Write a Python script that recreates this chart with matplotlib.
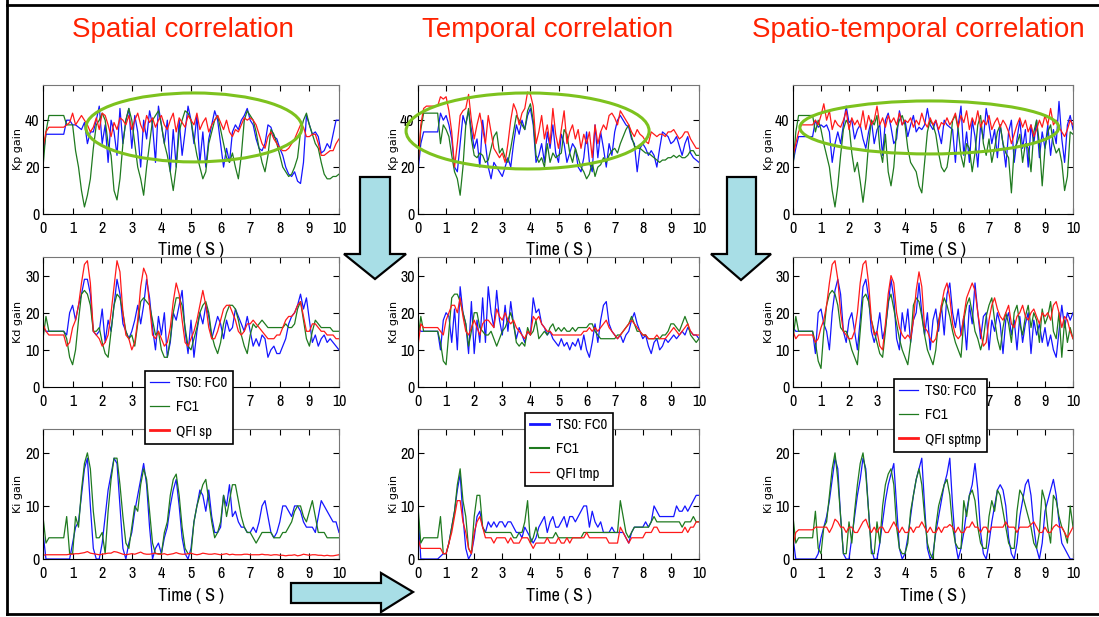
import numpy as np
import matplotlib.pyplot as plt
from matplotlib import font_manager
from matplotlib.font_manager import FontProperties
from matplotlib.patches import Ellipse, Polygon
from matplotlib.lines import Line2D

W, H = 1099, 617
t = np.linspace(0, 10, 101)

# ---- Kp gain (row 1) ----
kp_sp_blue = [25,34,34,34,34,34,34,34,40,40, 38,38,37,36,39,30,35,35,40,46,
              30,38,22,40,35,25,45,30,40,45, 28,42,35,20,40,32,44,38,22,46,
              38,30,40,18,36,20,40,25,35,46, 40,30,42,22,35,20,32,38,44,40,
              30,20,28,22,35,38,36,40,42,45, 40,38,32,28,27,30,38,37,33,32,
              28,25,20,17,16,18,14,13,22,42, 38,34,35,33,26,27,30,28,34,40, 40]
kp_sp_green = [20,35,42,42,42,42,42,42,38,38, 38,27,20,10,3,8,15,28,38,40,
               43,40,30,25,10,6,15,30,40,45, 40,30,20,15,8,20,30,40,42,44,
               38,30,25,18,10,20,35,40,44,43, 40,32,25,20,15,18,30,35,40,42,
               36,30,24,22,26,20,15,25,40,44, 42,40,35,28,22,18,25,36,34,30,
               25,20,18,16,17,20,24,35,40,43, 38,34,30,28,22,17,15,15,16,16, 17]
kp_sp_red = [28,35,37,37,37,37,37,37,38,39, 43,38,40,42,40,38,35,37,41,36,
             43,42,38,33,39,36,41,40,38,42, 36,40,43,38,35,42,39,41,37,40,
             42,38,36,40,43,35,41,39,37,42, 40,38,43,36,39,41,35,38,40,42,
             39,36,40,35,33,36,35,38,41,40, 41,40,38,34,30,28,33,35,32,30,
             28,27,27,28,30,32,35,38,37,33, 33,34,34,30,25,25,26,27,27,30, 32]

kp_tmp_blue = [18,30,35,35,35,35,35,35,43,40, 42,38,32,20,18,30,42,38,44,36,
               28,32,20,40,30,20,15,22,20,18, 16,20,24,20,30,38,34,40,36,42,
               45,38,22,25,30,22,35,28,38,26, 22,34,30,22,26,30,28,20,18,24,
               35,22,18,38,24,35,28,20,30,25, 35,40,42,40,38,37,32,30,18,28,
               30,28,25,27,25,20,28,35,34,33, 30,31,33,29,25,30,33,26,24,23, 22]
kp_tmp_green = [20,36,43,43,43,43,43,43,30,38, 36,33,25,18,15,8,20,38,45,32,
                25,24,26,25,22,23,28,33,35,26, 28,24,22,28,35,42,40,38,36,44,
                47,40,25,22,24,20,30,22,26,24, 25,26,36,34,26,22,28,24,20,18,
                15,17,22,16,20,21,24,22,25,27, 28,26,30,33,36,38,33,29,28,28,
                27,26,26,25,24,23,22,23,23,24, 24,25,24,25,24,24,25,27,27,25, 25]
kp_tmp_red = [20,38,45,46,46,46,46,46,50,49, 50,44,35,20,30,42,44,45,51,40,
              32,38,43,36,30,42,35,28,26,24, 26,22,30,40,47,44,38,43,45,52,
              51,46,30,35,42,32,38,30,45,34, 28,36,44,30,35,38,32,36,28,34,
              30,35,24,38,30,35,38,36,42,43, 41,38,44,42,40,38,35,33,36,34,
              33,31,30,35,34,33,34,34,33,35, 35,36,34,32,33,35,35,32,30,28, 28]

kp_st_blue = [22,28,33,33,33,33,33,33,40,37, 38,37,38,35,22,30,35,30,38,46,
              39,40,32,36,38,32,28,35,40,30, 36,38,25,40,43,37,30,32,44,38,
              40,33,38,42,35,37,36,38,45,38, 36,40,35,30,40,38,37,36,22,38,
              46,25,35,22,40,33,20,38,32,45, 38,30,36,24,38,30,20,35,40,22,
              32,40,28,36,20,38,30,40,24,35, 28,38,25,36,30,48,32,22,38,42, 36]
kp_st_green = [20,35,42,42,42,42,42,42,35,40, 36,30,25,20,10,3,12,25,36,40,
               38,26,18,22,14,5,15,30,40,38, 42,28,22,34,18,12,20,36,40,42,
               38,28,22,20,18,12,9,22,35,40, 38,34,26,20,18,20,28,40,42,36,
               25,20,30,28,18,26,38,42,30,25, 32,22,28,35,38,30,26,24,9,28,
               30,34,22,30,28,18,35,40,30,12, 28,35,38,30,26,28,22,10,16,35, 34]
kp_st_red = [25,30,35,38,38,38,38,38,40,38, 42,47,40,44,36,40,38,37,40,44,
             36,41,38,40,37,44,36,42,38,40, 46,38,41,37,42,39,41,38,43,38,
             40,39,41,37,40,38,43,39,37,41, 38,40,36,39,38,41,38,40,43,37,
             42,39,44,36,41,38,44,37,40,38, 42,36,39,41,37,40,38,35,30,34,
             38,41,37,40,35,38,33,36,40,37, 42,38,45,38,40,37,35,33,36,40, 38]

# ---- Kd gain (row 2) ----
kd_sp_blue = [16,15,15,15,15,15,15,15,14,20, 22,18,22,25,29,29,25,15,14,15,
              21,12,18,15,22,29,25,17,15,13, 15,18,22,17,22,29,24,16,10,19,
              14,20,8,12,20,18,22,26,15,9, 18,8,15,20,17,22,19,13,16,19,
              17,13,18,15,16,21,19,17,15,19, 15,11,13,11,14,13,8,10,11,9,
              9,11,13,17,19,20,22,25,21,24, 18,12,14,11,13,14,12,13,12,11, 10]
kd_sp_green = [13,19,15,15,15,15,15,15,13,8, 6,10,18,25,26,25,22,15,15,16,
               12,9,8,15,22,25,24,20,15,13, 14,11,17,23,24,23,22,18,14,15,
               10,8,8,13,20,24,24,22,16,11, 10,13,16,20,22,23,20,14,11,9,
               12,17,20,22,22,21,18,14,11,9, 14,17,16,17,18,17,16,16,16,16,
               16,16,17,16,16,17,21,23,18,13, 11,15,18,17,16,16,16,16,15,15, 15]
kd_sp_red = [17,15,14,14,14,14,14,14,11,12, 16,18,22,28,33,34,28,15,14,13,
             11,12,14,20,27,34,31,20,14,13, 10,12,18,27,32,30,22,14,13,15,
             13,11,12,16,23,28,25,18,12,11, 13,15,18,22,26,22,16,13,13,15,
             18,21,22,22,20,18,15,14,15,17, 17,18,17,16,15,14,13,13,13,14,
             14,16,18,19,19,20,22,23,19,15, 15,17,17,16,15,15,14,14,14,13, 13]

kd_tmp_blue = [16,15,15,15,15,15,15,15,10,18, 20,19,12,21,10,27,20,17,9,23,
               9,18,12,24,12,27,20,16,26,18, 14,22,15,23,17,13,16,14,12,15,
               14,24,20,21,17,16,14,15,13,12, 11,13,11,12,10,12,11,13,10,14,
               10,8,12,17,12,18,22,23,17,15, 14,13,14,12,14,15,18,20,17,15,
               13,14,11,9,12,13,10,11,13,12, 13,14,13,14,15,14,16,15,14,14, 13]
kd_tmp_green = [13,19,15,15,15,15,15,15,12,7, 6,15,24,25,25,23,20,17,11,15,
                20,20,16,15,14,14,15,13,11,13, 15,16,18,20,17,12,11,12,11,16,
                14,15,18,13,14,15,14,16,17,15, 16,15,16,15,15,16,15,16,16,16,
                16,17,17,15,14,13,13,13,13,13, 13,14,14,15,16,17,19,17,15,15,
                14,14,13,13,13,13,13,14,14,15, 17,17,16,15,17,19,17,14,13,12, 13]
kd_tmp_red = [11,17,16,16,16,16,16,16,15,14, 18,20,22,22,20,24,19,15,14,16,
              18,16,14,17,18,18,17,16,21,19, 18,20,18,17,18,16,15,14,13,15,
              14,19,18,19,17,16,15,15,14,14, 14,14,14,14,14,14,14,14,14,15,
              15,16,15,16,15,16,17,18,16,15, 14,13,14,15,16,17,18,17,16,15,
              14,14,13,13,13,14,13,13,13,14, 15,16,15,14,15,16,17,15,14,14, 14]

kd_st_blue = [16,15,15,15,15,15,15,15,9,20, 21,17,15,10,20,26,29,25,15,12,
              18,20,15,10,18,27,29,24,15,12, 15,20,13,16,22,29,24,13,10,20,
              15,21,12,18,20,28,20,14,20,10, 18,21,15,22,14,25,28,20,16,21,
              14,19,10,22,17,28,20,13,19,20, 10,18,15,20,17,9,18,20,14,18,
              10,19,12,17,20,9,18,14,17,12, 16,11,14,10,8,15,22,16,20,18, 20]
kd_st_green = [13,19,15,15,15,15,15,15,12,7, 5,15,22,25,26,25,22,16,15,15,
               13,10,8,6,15,24,25,23,18,15, 12,9,8,15,23,25,21,17,13,10,
               8,6,12,22,24,23,19,14,10,8, 6,10,18,21,24,22,19,15,12,10,
               8,18,22,24,20,15,13,10,13,19, 22,24,18,13,10,16,20,17,12,20,
               22,17,14,19,22,16,20,18,12,21, 17,19,23,15,13,20,8,18,12,16, 13]
kd_st_red = [15,13,14,14,14,14,14,14,12,13, 16,18,22,28,33,34,29,20,15,14,
             13,13,15,20,28,33,34,28,18,14, 15,11,10,17,25,30,28,20,16,14,
             13,14,13,18,26,31,27,16,15,13, 12,13,17,22,26,28,24,17,14,13,
             14,19,24,26,28,26,20,15,11,12, 18,22,24,21,19,18,20,22,17,16,
             19,20,22,19,18,20,21,19,17,20, 19,20,18,22,23,20,16,19,18,15, 13]

# ---- Ki gain (row 3) ----
ki_sp_blue = [5,0,0,0,0,0,0,0,0,0, 3,6,7,12,17,19,10,2,0,0,
              3,8,13,16,19,18,10,2,0,3, 5,9,12,15,18,14,6,0,2,3,
              1,4,6,10,13,15,10,4,1,0, 2,7,10,13,12,9,13,8,5,5,
              6,12,10,14,8,9,7,6,6,5, 5,6,5,7,10,11,8,5,4,5,
              7,10,10,9,8,10,10,9,7,6, 6,6,5,8,11,10,9,8,7,7, 5]
ki_sp_green = [8,3,4,4,4,4,4,4,8,1, 1,8,6,13,18,20,17,9,4,4,
               5,1,9,15,19,19,14,8,3,2, 6,10,9,14,17,15,9,3,1,1,
               1,5,7,12,15,16,12,6,2,1, 1,7,10,12,14,15,11,7,4,5,
               7,12,8,11,14,14,11,8,6,5, 5,4,3,4,5,5,5,5,4,4,
               4,5,5,6,7,9,10,10,8,7, 9,11,8,5,5,5,4,4,4,4, 4]
ki_sp_red = [0.7,0.8,0.8,0.8,0.8,0.8,0.8,0.8,0.8,0.9, 0.9,1.0,1.0,1.1,1.2,1.4,1.1,1.0,0.9,0.8,
             0.9,1.0,1.1,1.1,1.4,1.3,1.1,0.9,0.8,0.9, 1.0,0.9,1.1,1.3,1.0,0.9,0.9,1.0,1.1,0.9,
             0.9,1.0,0.8,0.9,1.0,1.2,1.0,0.9,0.9,1.0, 1.1,0.9,0.8,0.9,1.1,1.0,0.9,0.9,1.0,0.9,
             0.8,0.9,1.0,0.8,0.9,0.8,0.8,0.8,0.9,0.9, 0.8,0.8,0.8,0.8,0.9,0.8,0.8,0.7,0.8,0.8,
             0.7,0.7,0.6,0.7,0.7,0.8,0.6,0.7,0.9,0.8, 0.7,0.8,0.8,0.7,0.7,0.6,0.7,0.6,0.6,0.7, 0.8]

ki_tmp_blue = [9,0,0,0,0,0,0,0,0.5,1, 1,3,6,9,13,16,8,2,0,1,
               4,8,9,6,5,7,6,7,6,7, 7,6,7,7,6,5,5,4,6,5,
               4,3,4,6,7,8,5,7,8,6, 6,7,8,6,8,8,7,8,9,10,
               10,6,9,7,6,7,5,5,5,6, 5,5,5,5,4,3,5,6,6,6,
               6,7,6,7,10,9,8,8,8,8, 8,8,10,9,9,10,9,10,11,12, 12]
ki_tmp_green = [10,3,4,4,4,4,4,4,8,1, 1,3,6,9,14,17,11,8,2,1,
                8,12,12,6,5,5,5,5,5,5, 5,5,5,5,4,4,5,5,7,11,
                3,4,6,4,4,4,4,4,4,5, 4,4,4,4,4,4,4,4,4,5,
                5,5,5,5,5,5,5,5,5,5, 5,5,11,8,5,4,5,6,6,6,
                6,6,6,7,8,7,7,7,7,7, 7,7,7,7,6,7,7,7,8,7, 7]
ki_tmp_red = [4,2,2,2,2,2,2,2,2,1, 1,3,5,8,11,11,7,5,2,1,
              5,7,8,6,4,4,4,3,4,4, 4,4,3,4,3,3,3,4,4,4,
              3,2,3,3,3,3,4,3,3,3, 4,3,3,4,3,4,4,4,4,4,
              5,4,4,4,4,4,4,4,3,3, 3,3,6,5,4,3,4,4,4,4,
              4,5,5,5,6,6,5,5,5,5, 5,5,5,5,5,6,5,6,6,7, 7]

ki_st_blue = [4,0,0,0,0,0,0,0,0,1, 4,6,8,11,15,19,17,8,1,0,
              0,4,8,12,15,19,17,9,2,0, 0,3,7,11,14,16,18,10,2,0,
              1,4,8,12,15,17,19,10,2,0, 1,5,8,11,14,16,19,10,3,0,
              2,5,9,12,14,18,13,5,1,0, 3,7,10,13,14,13,10,4,1,0,
              3,8,11,14,15,12,6,2,0,3, 9,11,13,15,12,7,3,2,1,0, 0]
ki_st_green = [8,3,4,4,4,4,4,4,9,2, 1,6,7,12,17,20,15,8,1,1,
               7,3,9,14,18,20,16,9,1,1, 7,3,10,14,16,17,14,6,2,1,
               1,3,9,12,15,17,14,8,3,1, 0,6,10,12,14,15,12,6,3,2,
               2,11,8,12,13,11,6,3,2,2, 8,11,9,13,12,9,6,3,2,2,
               9,13,12,10,8,6,3,2,5,13, 11,6,3,12,11,8,6,5,3,10, 6]
ki_st_red = [2.5,5,5.5,5.5,5.5,5.5,5.5,5.5,6,6, 6,6,6,5,6,7.5,7,6,6,5,
             6,6,5,5,6,7,7.5,6,5,6, 5,6,6,5,5,6,7,6,5,6,
             5,5,6,5,6,6,7,6,5,6, 5,5,6,5,6,6,6.5,6,5,6,
             5,5,6,6,7,6,6,5,6,6, 5,6,6,6,6,6,7,6,6,6,
             5,6,6,6,6,6.5,7,6,5,5, 6,5,5,6,6.5,6,6,5,4,5, 6]

titles = ["Spatial correlation", "Temporal correlation", "Spatio-temporal correlation"]
legend_labels = [["TS0: FC0", "FC1", "QFI sp"],
                 ["TS0: FC0", "FC1", "QFI tmp"],
                 ["TS0: FC0", "FC1", "QFI sptmp"]]
row_labels = ["Kp gain", "Kd gain", "Ki gain"]
row_ylim = [55, 35, 24.5]
row_yticks = [[0, 20, 40], [0, 10, 20, 30], [0, 10, 20]]
# x tick labels that the legend boxes hide in the middle row
hidden_xticks = [[4, 5], [], [4, 5, 6]]

data = [
    [(kp_sp_blue, kp_sp_green, kp_sp_red), (kp_tmp_blue, kp_tmp_green, kp_tmp_red), (kp_st_blue, kp_st_green, kp_st_red)],
    [(kd_sp_blue, kd_sp_green, kd_sp_red), (kd_tmp_blue, kd_tmp_green, kd_tmp_red), (kd_st_blue, kd_st_green, kd_st_red)],
    [(ki_sp_blue, ki_sp_green, ki_sp_red), (ki_tmp_blue, ki_tmp_green, ki_tmp_red), (ki_st_blue, ki_st_green, ki_st_red)],
]


def narrow_font():
    # look for a condensed sans face (MATLAB-ish tick labels)
    cands = []
    for f in font_manager.fontManager.ttflist:
        low = (f.name + ' ' + f.fname).lower()
        if ('narrow' in low or 'condensed' in low) and f.style == 'normal' \
                and f.weight in (400, 'normal', 'regular') and 'mono' not in low \
                and 'serif' not in f.name.lower() and 'bold' not in f.fname.lower():
            rank = 0 if 'narrow' in low else 1
            cands.append((rank, f.fname))
    if cands:
        cands.sort()
        return cands[0][1]
    return None


NARROW = narrow_font()


def tick_font(size):
    if NARROW:
        return FontProperties(fname=NARROW, size=size)
    return FontProperties(family='DejaVu Sans', size=size * 0.8)


BLUE, GREEN, RED = '#1515ff', '#1f7a1f', '#ff1a1a'

fig = plt.figure(figsize=(W / 100, H / 100), dpi=100)

col_x = [(43, 339), (418, 699), (793, 1073)]
row_y = [(85, 214), (257, 387), (429, 559)]
ylab_off = [20, 19, 19]

axes = [[None] * 3 for _ in range(3)]
for r in range(3):
    for c in range(3):
        x0, x1 = col_x[c]
        y0, y1 = row_y[r]
        ax = fig.add_axes([x0 / W, 1 - y1 / H, (x1 - x0) / W, (y1 - y0) / H])
        b, g, rd = data[r][c]
        ax.plot(t, b, color=BLUE, lw=0.9)
        ax.plot(t, g, color=GREEN, lw=0.9)
        ax.plot(t, rd, color=RED, lw=0.9)
        ax.set_xlim(0, 10)
        ax.set_ylim(0, row_ylim[r])
        ax.set_xticks(range(11))
        if r == 1:
            ax.set_xticklabels(['' if k in hidden_xticks[c] else str(k) for k in range(11)])
        ax.set_yticks(row_yticks[r])
        ax.tick_params(direction='in', top=True, right=True, length=4, pad=2.5, width=0.8)
        ax.tick_params(axis='x', pad=5)
        for lbl in ax.get_xticklabels() + ax.get_yticklabels():
            lbl.set_fontproperties(tick_font(11.5))
        for s in ['top', 'right']:
            ax.spines[s].set_color('#777777')
        ax.set_ylabel(row_labels[r], fontsize=8, family='DejaVu Sans')
        ax.yaxis.set_label_coords(-ylab_off[c] / (x1 - x0), 0.5)
        if r != 1:  # middle-row labels sit under the legends
            ax.set_xlabel("Time ( S )", fontproperties=tick_font(13))
            ax.xaxis.set_label_coords(0.5, -0.22)
        axes[r][c] = ax

# green ellipses on the Kp panels
ellipses = [(5.1, 36.9, 7.3, 29.4), (3.9, 35.4, 8.65, 32.4), (4.87, 36.9, 9.25, 22.6)]
for c, (cx, cy, ew, eh) in enumerate(ellipses):
    axes[0][c].add_patch(Ellipse((cx, cy), ew, eh, fill=False, edgecolor='#7dc21e',
                                 lw=2.2, clip_on=False, zorder=5))

# titles
title_x = [183, 548, 918]
for c in range(3):
    fig.text(title_x[c] / W, 1 - 30 / H, titles[c], color='#ff2200', fontsize=20,
             family='Liberation Sans', ha='center', va='center')

# legends
leg_pos = [(145, 371), (525, 413), (894, 379)]
leg_lw = [(0.9, 0.9, 2.0), (2.0, 1.5, 0.9), (0.9, 0.9, 2.0)]
for c in range(3):
    handles = [Line2D([], [], color=col, lw=lw) for col, lw in zip((BLUE, GREEN, RED), leg_lw[c])]
    lg = fig.legend(handles, legend_labels[c], loc='upper left',
                    bbox_to_anchor=(leg_pos[c][0] / W, 1 - leg_pos[c][1] / H),
                    frameon=True, fancybox=False, edgecolor='black', framealpha=1,
                    prop=tick_font(10.5), handlelength=1.3, handletextpad=0.5,
                    borderpad=0.35, labelspacing=0.7, borderaxespad=0)
    lg.get_frame().set_linewidth(1.2)

# light blue arrows
def to_fig(pts):
    return [(x / W, 1 - y / H) for x, y in pts]

arrows = [
    [(360, 177), (390, 177), (390, 254), (406, 254), (375, 279), (344, 254), (360, 254)],
    [(727, 177), (756, 177), (756, 254), (771, 254), (741, 280), (711, 254), (727, 254)],
    [(291, 583), (381, 583), (381, 573), (413, 592), (381, 612), (381, 603), (291, 603)],
]
for pts in arrows:
    fig.add_artist(Polygon(to_fig(pts), closed=True, facecolor='#a8dee6',
                           edgecolor='black', lw=1.6, transform=fig.transFigure))

# slide frame
frame_kw = dict(color='black', lw=2, transform=fig.transFigure)
fig.add_artist(Line2D([7 / W, 7 / W], [1 - 0 / H, 1 - 614 / H], **frame_kw))
fig.add_artist(Line2D([7 / W, 1], [1 - 614 / H, 1 - 614 / H], **frame_kw))
fig.add_artist(Line2D([7 / W, 1], [1 - 5 / H, 1 - 5 / H], **frame_kw))

fig.savefig("out.png", dpi=100, facecolor='white')
